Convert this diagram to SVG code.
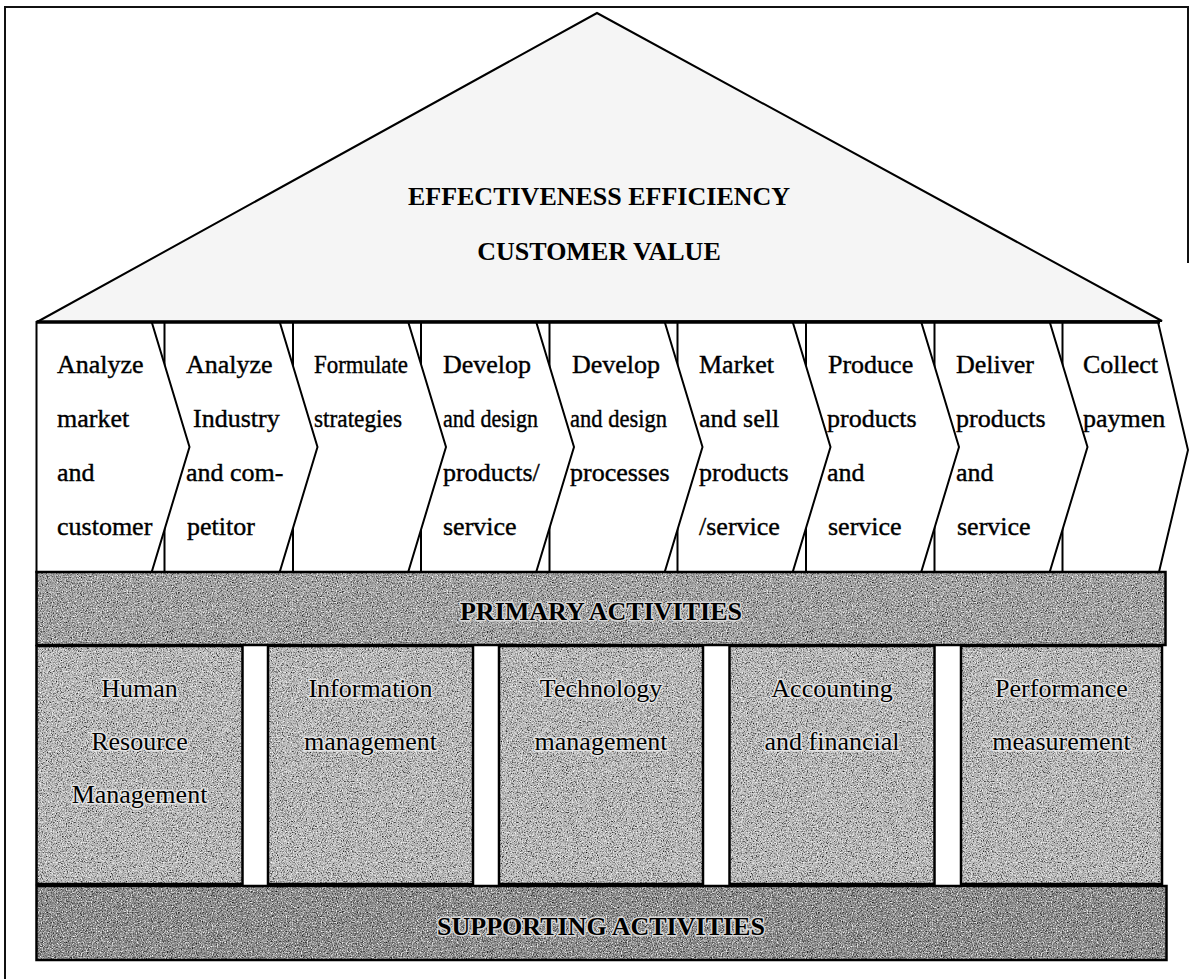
<svg xmlns="http://www.w3.org/2000/svg" width="1189" height="979" viewBox="0 0 1189 979">
<style>
  .frame{fill:none;stroke:#111;stroke-width:2}
  .roof{fill:#f5f5f5;stroke:#000;stroke-width:2}
  .chev{fill:#fff;stroke:#000;stroke-width:2;stroke-linejoin:miter}
  .ct{font-family:"Liberation Serif","Times New Roman",serif;font-size:26px;fill:#000;stroke:#000;stroke-width:0.4}
  .rt{font-family:"Liberation Serif","Times New Roman",serif;font-size:26px;font-weight:bold;fill:#000;text-anchor:middle}
  .bt{font-family:"Liberation Serif","Times New Roman",serif;font-size:26px;font-weight:bold;fill:#000;text-anchor:middle;stroke:#d8d8d8;stroke-width:3;stroke-linejoin:round;paint-order:stroke}
  .st{font-family:"Liberation Serif","Times New Roman",serif;font-size:26px;fill:#000;text-anchor:middle;stroke:#e4e4e4;stroke-width:3;stroke-linejoin:round;paint-order:stroke}
  .edge{fill:none;stroke:#000;stroke-width:2.5}
</style>
<defs>
  <filter id="grain" x="0" y="0" width="1" height="1" filterUnits="objectBoundingBox" color-interpolation-filters="sRGB">
    <feTurbulence type="fractalNoise" baseFrequency="0.8" numOctaves="2" seed="7" result="n"/>
    <feColorMatrix in="n" type="matrix" values="0 0 0 0 0  0 0 0 0 0  0 0 0 0 0  2.4 0 0 0 -1.15" result="k"/>
    <feColorMatrix in="n" type="matrix" values="0 0 0 0 1  0 0 0 0 1  0 0 0 0 1  0 2.6 0 0 -1.2" result="w"/>
    <feComposite in="k" in2="SourceGraphic" operator="in" result="k2"/>
    <feComposite in="w" in2="SourceGraphic" operator="in" result="w2"/>
    <feMerge><feMergeNode in="SourceGraphic"/><feMergeNode in="k2"/><feMergeNode in="w2"/></feMerge>
  </filter>
</defs>

<rect x="0" y="0" width="1189" height="979" fill="#fff"/>

<!-- outer frame -->
<path class="frame" d="M5,979 L5,7 L1188,7 L1188,263"/>

<g id="roof">
  <polygon class="roof" points="37,322 597,13 1162,321"/>
  <text class="rt" x="599" y="205">EFFECTIVENESS EFFICIENCY</text>
  <text class="rt" x="599" y="260">CUSTOMER VALUE</text>
</g>

<!-- chevrons drawn from last to first so each overlaps the next -->
<g id="chevron9">
  <polygon class="chev" points="1062.5,322 1158,322 1188,450 1159,572 1062.5,572"/>
  <text class="ct" x="1083" y="373">Collect</text>
  <text class="ct" x="1083" y="427">paymen</text>
</g>
<g id="chevron8">
  <polygon class="chev" points="934.5,322 1049.7,322 1087.5,447 1049.7,572 934.5,572"/>
  <text class="ct" x="956" y="373">Deliver</text>
  <text class="ct" x="956" y="427">products</text>
  <text class="ct" x="956" y="481">and</text>
  <text class="ct" x="957" y="535">service</text>
</g>
<g id="chevron7">
  <polygon class="chev" points="806,322 921.2,322 959,447 921.2,572 806,572"/>
  <text class="ct" x="828" y="373">Produce</text>
  <text class="ct" x="827" y="427">products</text>
  <text class="ct" x="827" y="481">and</text>
  <text class="ct" x="828" y="535">service</text>
</g>
<g id="chevron6">
  <polygon class="chev" points="677.5,322 792.7,322 830.5,447 792.7,572 677.5,572"/>
  <text class="ct" x="699" y="373">Market</text>
  <text class="ct" x="699" y="427">and sell</text>
  <text class="ct" x="699" y="481">products</text>
  <text class="ct" x="699" y="535">/service</text>
</g>
<g id="chevron5">
  <polygon class="chev" points="549.5,322 664.7,322 702.5,447 664.7,572 549.5,572"/>
  <text class="ct" x="572" y="373">Develop</text>
  <text class="ct" x="570" y="427" textLength="97" lengthAdjust="spacingAndGlyphs">and design</text>
  <text class="ct" x="570" y="481">processes</text>
</g>
<g id="chevron4">
  <polygon class="chev" points="421,322 536.2,322 574,447 536.2,572 421,572"/>
  <text class="ct" x="443" y="373">Develop</text>
  <text class="ct" x="443" y="427" textLength="95" lengthAdjust="spacingAndGlyphs">and design</text>
  <text class="ct" x="443" y="481">products/</text>
  <text class="ct" x="443" y="535">service</text>
</g>
<g id="chevron3">
  <polygon class="chev" points="293,322 408.2,322 446,447 408.2,572 293,572"/>
  <text class="ct" x="314" y="373" textLength="94" lengthAdjust="spacingAndGlyphs">Formulate</text>
  <text class="ct" x="314" y="427" textLength="88" lengthAdjust="spacingAndGlyphs">strategies</text>
</g>
<g id="chevron2">
  <polygon class="chev" points="164.5,322 279.7,322 317.5,447 279.7,572 164.5,572"/>
  <text class="ct" x="186" y="373">Analyze</text>
  <text class="ct" x="193" y="427">Industry</text>
  <text class="ct" x="186" y="481">and com-</text>
  <text class="ct" x="187" y="535">petitor</text>
</g>
<g id="chevron1">
  <polygon class="chev" points="36.5,322 151.7,322 189.5,447 151.7,572 36.5,572"/>
  <text class="ct" x="57" y="373">Analyze</text>
  <text class="ct" x="57" y="427">market</text>
  <text class="ct" x="57" y="481">and</text>
  <text class="ct" x="57" y="535">customer</text>
</g>
<line x1="36.5" y1="322" x2="1160" y2="322" stroke="#000" stroke-width="3.5"/>

<g id="primary-activities">
  <rect x="36.5" y="572" width="1129" height="73" fill="#a0a0a0" filter="url(#grain)"/>
  <rect class="edge" x="36.5" y="572" width="1129" height="73"/>
  <text class="bt" x="601" y="620">PRIMARY ACTIVITIES</text>
</g>

<g id="support-hr">
  <rect x="36.5" y="646" width="206" height="238" fill="#bababa" filter="url(#grain)"/>
  <rect class="edge" x="36.5" y="646" width="206" height="238"/>
  <text class="st" x="139.5" y="697">Human</text>
  <text class="st" x="139.5" y="750">Resource</text>
  <text class="st" x="139.5" y="803">Management</text>
</g>
<g id="support-info">
  <rect x="268" y="646" width="205" height="238" fill="#bababa" filter="url(#grain)"/>
  <rect class="edge" x="268" y="646" width="205" height="238"/>
  <text class="st" x="370.5" y="697">Information</text>
  <text class="st" x="370.5" y="750">management</text>
</g>
<g id="support-tech">
  <rect x="499" y="646" width="204" height="238" fill="#bababa" filter="url(#grain)"/>
  <rect class="edge" x="499" y="646" width="204" height="238"/>
  <text class="st" x="601" y="697">Technology</text>
  <text class="st" x="601" y="750">management</text>
</g>
<g id="support-acct">
  <rect x="729.5" y="646" width="205" height="238" fill="#bababa" filter="url(#grain)"/>
  <rect class="edge" x="729.5" y="646" width="205" height="238"/>
  <text class="st" x="832" y="697">Accounting</text>
  <text class="st" x="832" y="750">and financial</text>
</g>
<g id="support-perf">
  <rect x="961" y="646" width="201" height="238" fill="#bababa" filter="url(#grain)"/>
  <rect class="edge" x="961" y="646" width="201" height="238"/>
  <text class="st" x="1061.5" y="697">Performance</text>
  <text class="st" x="1061.5" y="750">measurement</text>
</g>

<g id="supporting-activities">
  <rect x="36.5" y="886" width="1130" height="74" fill="#888888" filter="url(#grain)"/>
  <rect class="edge" x="36.5" y="886" width="1130" height="74"/>
  <text class="bt" x="601" y="935">SUPPORTING ACTIVITIES</text>
</g>

<g id="connectors"/>
</svg>
